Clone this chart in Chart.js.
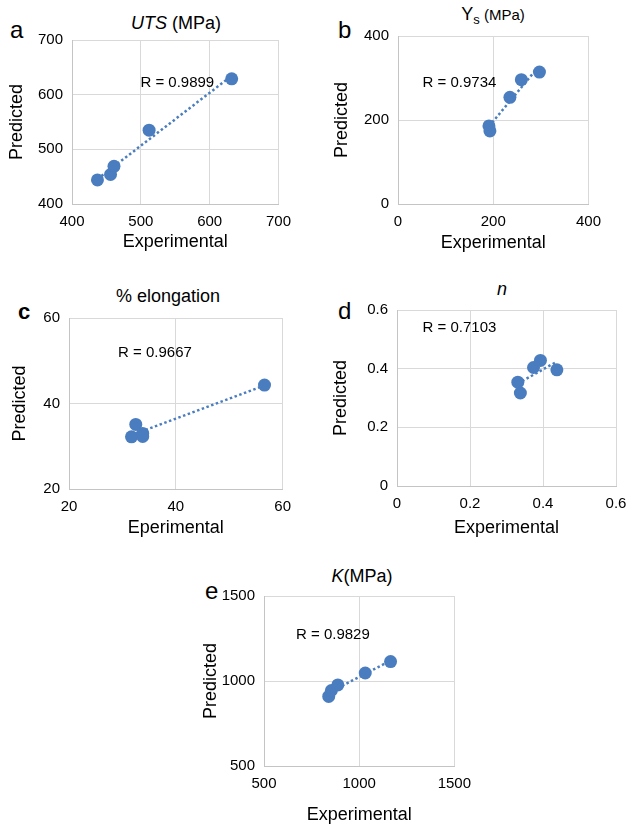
<!DOCTYPE html>
<html lang="en">
<head>
    <meta charset="UTF-8">
    <title>Predicted vs Experimental</title>
    <script src="https://cdn.jsdelivr.net/npm/chart.js"></script>
    <style>
        body {
            margin: 0;
            background: #ffffff;
            font-family: Helvetica, "Liberation Sans", Arial, sans-serif;
            color: #000;
        }
        .page {
            position: relative;
            width: 636px;
            height: 827px;
            overflow: hidden;
        }
        canvas {
            position: absolute;
        }
        .title {
            position: absolute;
            font-size: 18px;
            line-height: 18px;
            white-space: nowrap;
            transform: translateX(-50%);
        }
        .letter {
            position: absolute;
            font-size: 24px;
            line-height: 24px;
        }
        .title sub {
            font-size: 13px;
            vertical-align: -4px;
        }
        .small {
            font-size: 15px;
        }
    </style>
</head>
<body>
<div class="page">
    <div class="letter" style="left:10px; top:18px;">a</div>
    <div class="title" style="left:176px; top:14px;"><i>UTS</i> (MPa)</div>
    <canvas id="chartA"></canvas>

    <div class="letter" style="left:338px; top:18px;">b</div>
    <div class="title" style="left:493px; top:5px;">Y<sub>s</sub><span class="small"> (MPa)</span></div>
    <canvas id="chartB"></canvas>

    <div class="letter" style="left:18px; top:300px; font-size:22px; font-weight:bold;">c</div>
    <div class="title" style="left:168px; top:287px;">% elongation</div>
    <canvas id="chartC"></canvas>

    <div class="letter" style="left:338px; top:299px;">d</div>
    <div class="title" style="left:502px; top:280px;"><i>n</i></div>
    <canvas id="chartD"></canvas>

    <div class="letter" style="left:205px; top:579px;">e</div>
    <div class="title" style="left:362px; top:567px;"><i>K</i>(MPa)</div>
    <canvas id="chartE"></canvas>
</div>

<script>
    // values (experimental, predicted)
    const utsExp = [437, 456, 461, 512, 632];
    const utsPred = [444, 454, 469, 535, 629];

    const ysExp = [191, 193, 235, 259, 297];
    const ysPred = [186, 174, 254, 296, 314];

    const elongExp = [31.7, 32.5, 33.8, 33.8, 56.6];
    const elongPred = [32.2, 35.1, 33.0, 32.3, 44.3];

    const nExp = [0.331, 0.338, 0.374, 0.393, 0.438];
    const nPred = [0.354, 0.317, 0.404, 0.428, 0.396];

    const kExp = [840, 854, 888, 1032, 1165];
    const kPred = [909, 944, 977, 1047, 1114];

    const rLabels = ['R = 0.9899', 'R = 0.9734', 'R = 0.9667', 'R = 0.7103', 'R = 0.9829'];

    const FONT = 'Helvetica, "Liberation Sans", Arial, sans-serif';
    const BLUE = '#4a7dbf';

    // least squares line over the data range, like the spreadsheet trendline
    function trendline(xs, ys) {
        const n = xs.length;
        const mx = xs.reduce((a, b) => a + b, 0) / n;
        const my = ys.reduce((a, b) => a + b, 0) / n;
        let sxy = 0, sxx = 0;
        for (let i = 0; i < n; i++) {
            sxy += (xs[i] - mx) * (ys[i] - my);
            sxx += (xs[i] - mx) * (xs[i] - mx);
        }
        const slope = sxy / sxx;
        const x0 = Math.min(...xs), x1 = Math.max(...xs);
        return [
            { x: x0, y: my + slope * (x0 - mx) },
            { x: x1, y: my + slope * (x1 - mx) }
        ];
    }

    // draws the R label at a data position
    const rLabelPlugin = {
        id: 'rLabel',
        afterDatasetsDraw(chart, args, opts) {
            const ctx = chart.ctx;
            const px = chart.scales.x.getPixelForValue(opts.x);
            const py = chart.scales.y.getPixelForValue(opts.y);
            ctx.save();
            ctx.font = '15px ' + FONT;
            ctx.fillStyle = '#000';
            ctx.textAlign = 'center';
            ctx.textBaseline = 'middle';
            ctx.fillText(opts.text, px, py);
            ctx.restore();
        }
    };

    function makeChart(id, box, plot, xs, ys, range, label, xTitle, titlePadBottom) {
        const canvas = document.getElementById(id);
        canvas.width = box.w;
        canvas.height = box.h;
        canvas.style.left = box.x + 'px';
        canvas.style.top = box.y + 'px';

        const pts = xs.map((x, i) => ({ x: x, y: ys[i] }));
        const axis = (isX) => ({
            type: 'linear',
            min: range.min,
            max: range.max,
            ticks: {
                stepSize: range.step,
                padding: isX ? 9 : 9,
                color: '#000',
                format: { useGrouping: false },
                font: { family: FONT, size: 15 }
            },
            grid: { color: '#d9d9d9', lineWidth: 1, drawTicks: false },
            border: { color: '#c4c4c4', width: 1 },
            title: {
                display: true,
                text: isX ? xTitle : 'Predicted',
                color: '#000',
                font: { family: FONT, size: 18 },
                padding: { top: 4, bottom: titlePadBottom }
            },
            afterFit(scale) {
                if (isX) scale.height = box.y + box.h - plot.b;
                else scale.width = plot.l - box.x;
            }
        });

        new Chart(canvas, {
            type: 'scatter',
            data: {
                datasets: [
                    {
                        data: pts,
                        backgroundColor: BLUE,
                        borderColor: BLUE,
                        pointRadius: 6.5,
                        pointHoverRadius: 6.5,
                        borderWidth: 0
                    },
                    {
                        type: 'line',
                        data: trendline(xs, ys),
                        borderColor: BLUE,
                        borderWidth: 2.5,
                        borderDash: [2.5, 2.5],
                        pointRadius: 0,
                        fill: false
                    }
                ]
            },
            options: {
                responsive: false,
                animation: false,
                layout: {
                    padding: {
                        top: plot.t - box.y,
                        right: box.x + box.w - plot.r,
                        bottom: 0,
                        left: 0
                    }
                },
                plugins: {
                    legend: { display: false },
                    tooltip: { enabled: false },
                    rLabel: label
                },
                scales: { x: axis(true), y: axis(false) }
            },
            plugins: [rLabelPlugin]
        });
    }

    makeChart('chartA', { x: 2, y: 22, w: 298, h: 235 }, { l: 72, t: 38, r: 283, b: 204 },
        utsExp, utsPred, { min: 400, max: 700, step: 100 },
        { x: 553, y: 621, text: rLabels[0] }, 'Experimental', 4);

    makeChart('chartB', { x: 327, y: 18, w: 283, h: 240 }, { l: 398, t: 34, r: 589, b: 204 },
        ysExp, ysPred, { min: 0, max: 400, step: 200 },
        { x: 129, y: 288, text: rLabels[1] }, 'Experimental', 4);

    makeChart('chartC', { x: 5, y: 300, w: 295, h: 243 }, { l: 69, t: 315, r: 283, b: 489 },
        elongExp, elongPred, { min: 20, max: 60, step: 20 },
        { x: 36.1, y: 51.8, text: rLabels[2] }, 'Eperimental', 4);

    makeChart('chartD', { x: 326, y: 292, w: 310, h: 251 }, { l: 397, t: 306, r: 616, b: 486 },
        nExp, nPred, { min: 0, max: 0.6, step: 0.2 },
        { x: 0.171, y: 0.539, text: rLabels[3] }, 'Experimental', 4);

    makeChart('chartE', { x: 196, y: 578, w: 284, h: 248 }, { l: 264, t: 594, r: 460, b: 766 },
        kExp, kPred, { min: 500, max: 1500, step: 500 },
        { x: 862, y: 1269, text: rLabels[4] }, 'Experimental', 0);
</script>
</body>
</html>
